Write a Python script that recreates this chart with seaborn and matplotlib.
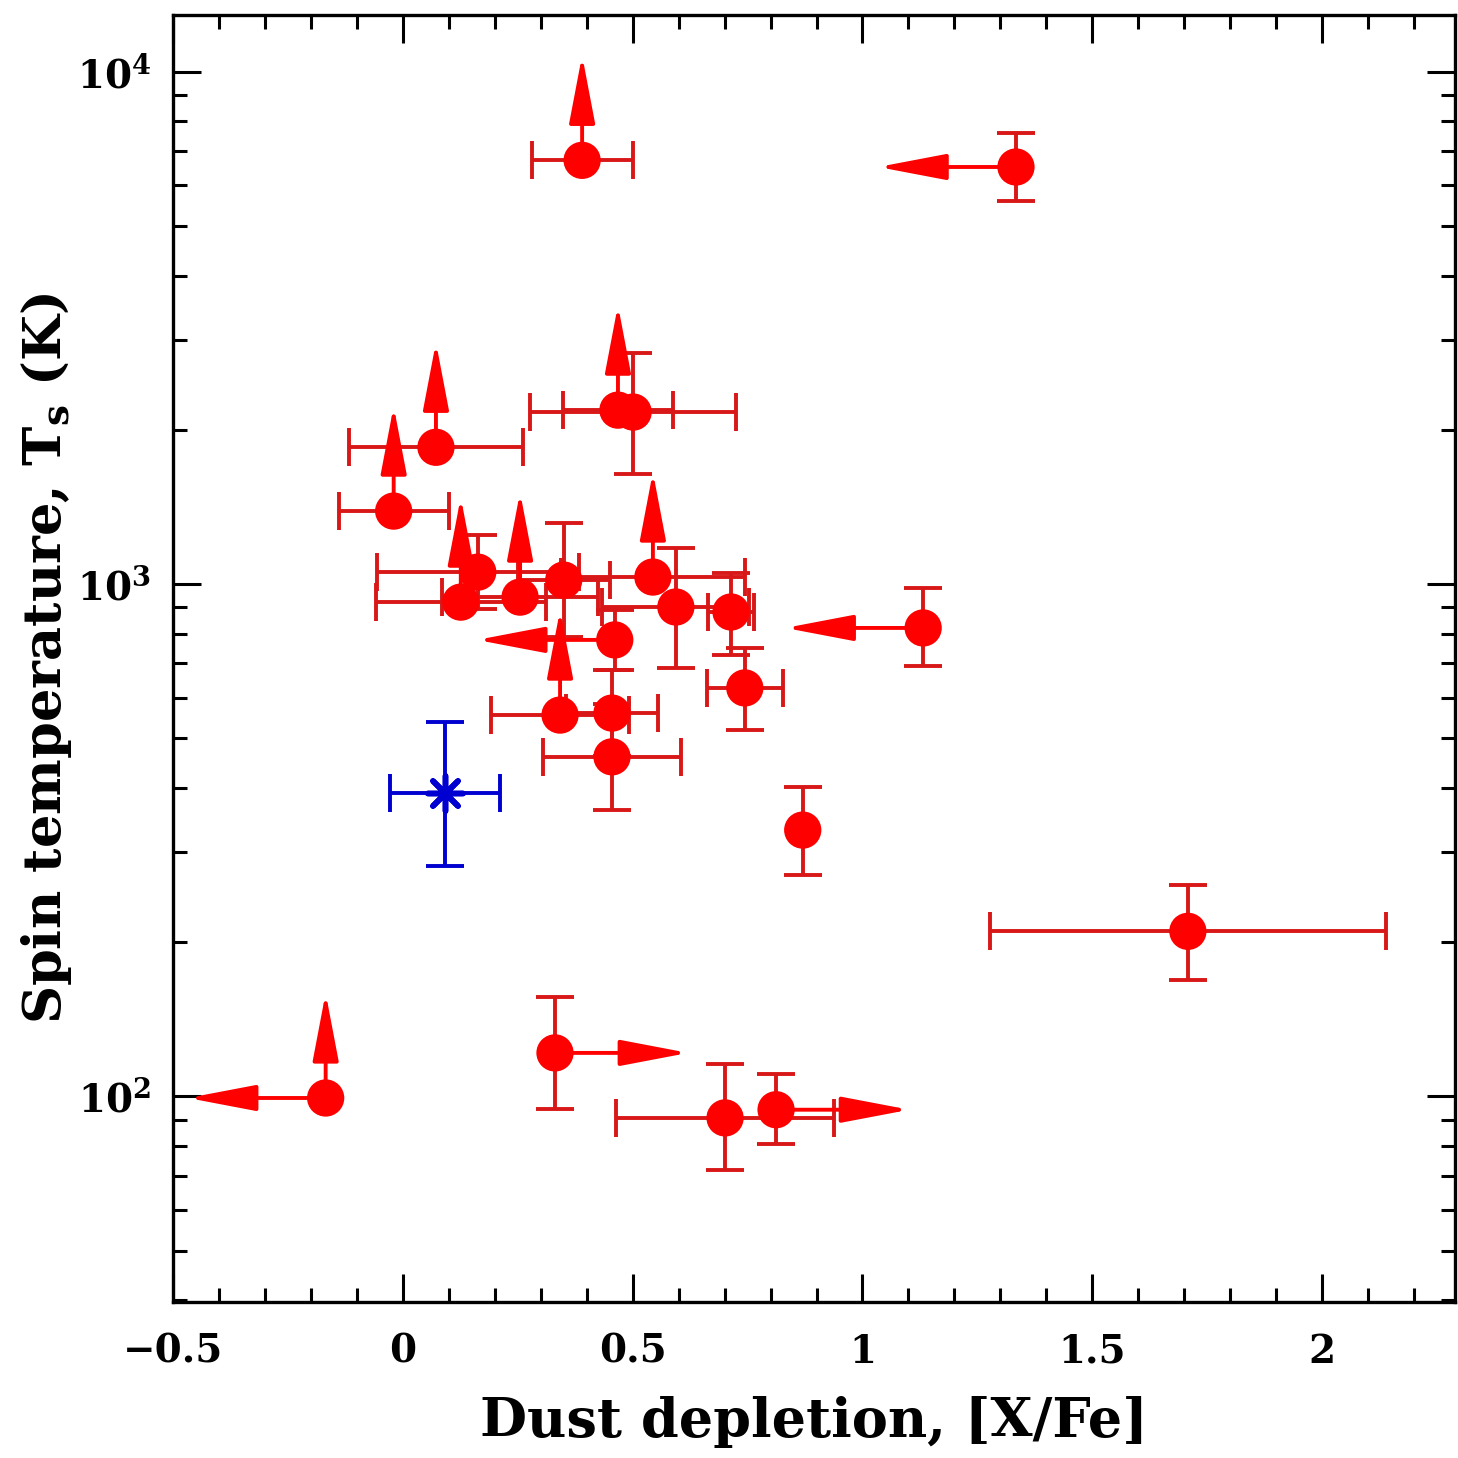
import numpy as np
import pandas as pd
import matplotlib
matplotlib.use("Agg")
import matplotlib.pyplot as plt
import seaborn as sns
from matplotlib.patches import FancyArrowPatch, ArrowStyle
from matplotlib.ticker import MultipleLocator, LogLocator, NullFormatter

nan = np.nan

# ---------------- data ----------------
depletion = [0.390, 1.334, 0.072, -0.020, 0.468, 0.501, 0.544, 0.163, 0.126, 0.255,
             0.350, 0.594, 0.714, 0.461, 0.744, 1.132, 0.342, 0.455, 0.455, 0.870,
             1.708, -0.168, 0.331, 0.701, 0.812]
spin_temp = [6714, 6516, 1849, 1388, 2185, 2166, 1032, 1055, 922, 943,
             1018, 902, 882, 778, 627, 821, 555, 560, 460, 331,
             210, 99.3, 121.6, 90.8, 94.2]
depletion_err = [0.11, nan, 0.19, 0.12, 0.12, 0.224, 0.20, 0.22, 0.185, 0.17,
                 0.10, 0.16, 0.05, nan, 0.083, nan, 0.15, 0.10, 0.15, nan,
                 0.43, nan, nan, 0.237, nan]
temp_low = [nan, 5590, nan, nan, nan, 1639, nan, 893, nan, nan,
            788, 686, 727, 680, 519, 692, nan, 462, 362, 270,
            169, nan, 94.6, 71.9, 80.7]
temp_high = [nan, 7590, nan, nan, nan, 2823, nan, 1246, nan, nan,
             1315, 1176, 1051, 890, 750, 982, nan, 680, 583, 402,
             259, nan, 156, 115.6, 110.7]
# limits: T_s lower limit (arrow up), depletion upper limit (arrow left),
# depletion lower limit (arrow right)
temp_lower_limit = [1, 0, 1, 1, 1, 0, 1, 0, 1, 1, 0, 0, 0, 0, 0, 0, 1, 0, 0, 0, 0, 1, 0, 0, 0]
depl_upper_limit = [0, 1, 0, 0, 0, 0, 0, 0, 0, 0, 0, 0, 0, 1, 0, 1, 0, 0, 0, 0, 0, 1, 0, 0, 0]
depl_lower_limit = [0, 0, 0, 0, 0, 0, 0, 0, 0, 0, 0, 0, 0, 0, 0, 0, 0, 0, 0, 0, 0, 0, 1, 0, 1]

# Galactic reference point (blue)
gal_depletion = [0.091]
gal_temp = [391]
gal_depletion_err = [0.12]
gal_temp_low = [282]
gal_temp_high = [538]

x_ticks = [-0.5, 0, 0.5, 1, 1.5, 2]
x_tick_labels = ["\u22120.5", "0", "0.5", "1", "1.5", "2"]
y_ticks = [100, 1000, 10000]
y_tick_labels = [r"$\mathbf{10^{2}}$", r"$\mathbf{10^{3}}$", r"$\mathbf{10^{4}}$"]
x_label = "Dust depletion, [X/Fe]"
y_label = r"Spin temperature, T$_\mathbf{s}$ (K)"

df = pd.DataFrame({"dep": depletion, "ts": spin_temp, "dep_err": depletion_err,
                   "ts_lo": temp_low, "ts_hi": temp_high,
                   "up": temp_lower_limit, "left": depl_upper_limit,
                   "right": depl_lower_limit})
gal = pd.DataFrame({"dep": gal_depletion, "ts": gal_temp, "dep_err": gal_depletion_err,
                    "ts_lo": gal_temp_low, "ts_hi": gal_temp_high})

# ---------------- style ----------------
sns.set_theme(style="ticks")
plt.rcParams["font.family"] = ["DejaVu Serif", "DejaVu Sans"]
plt.rcParams["font.weight"] = "bold"
plt.rcParams["mathtext.fontset"] = "dejavuserif"
plt.rcParams["mathtext.default"] = "bf"
plt.rcParams["text.color"] = "black"
plt.rcParams["axes.labelcolor"] = "black"

RED = "#ff0000"
RED_ERR = "#d81818"
BLUE = "#0000d0"

fig = plt.figure(figsize=(14.58, 14.58), dpi=100)
ax = fig.add_axes([0.1187, 0.107, 0.8795, 0.8827])
ax.set_yscale("log")
ax.set_xlim(-0.5, 2.29)
ax.set_ylim(39.7, 12900)

LW = 2.8
CAP = 28

def draw_errors(data, color):
    for _, r in data.iterrows():
        xe = None if np.isnan(r.dep_err) else r.dep_err
        if np.isnan(r.ts_lo):
            ye = None
        else:
            ye = [[r.ts - r.ts_lo], [r.ts_hi - r.ts]]
        if xe is None and ye is None:
            continue
        ax.errorbar(r.dep, r.ts, xerr=xe, yerr=ye, fmt="none", ecolor=color,
                    elinewidth=LW, capsize=CAP / 2, capthick=LW, zorder=2)

draw_errors(df, RED_ERR)
draw_errors(gal, BLUE)

# limit arrows
astyle = ArrowStyle("-|>", head_length=42, head_width=8)
UP_DEX = 0.205
DX = 0.29
for _, r in df.iterrows():
    ends = []
    if r.up:
        ends.append((r.dep, r.ts * 10 ** UP_DEX))
    if r.left:
        ends.append((r.dep - DX - 0.01, r.ts))
    if r.right:
        ends.append((r.dep + DX, r.ts))
    for e in ends:
        arr = FancyArrowPatch((r.dep, r.ts), e, arrowstyle=astyle, mutation_scale=1,
                              color=RED, lw=LW, shrinkA=0, shrinkB=0, zorder=3)
        ax.add_patch(arr)

sns.scatterplot(data=df, x="dep", y="ts", ax=ax, color=RED, s=720,
                edgecolor="none", linewidth=0, zorder=4, legend=False)
sns.scatterplot(data=gal, x="dep", y="ts", ax=ax, color=BLUE, s=650,
                marker=(8, 2, 0), linewidth=4, edgecolor=BLUE, zorder=4, legend=False)

# ---------------- axes ----------------
ax.set_xticks(x_ticks)
ax.set_xticklabels(x_tick_labels)
ax.xaxis.set_minor_locator(MultipleLocator(0.1))
ax.set_yticks(y_ticks)
ax.set_yticklabels(y_tick_labels)
ax.yaxis.set_minor_locator(LogLocator(base=10, subs=np.arange(2, 10)))
ax.yaxis.set_minor_formatter(NullFormatter())

ax.tick_params(which="both", direction="in", top=True, right=True, width=2.2,
               colors="black", labelsize=28)
ax.tick_params(axis="x", pad=22)
ax.tick_params(axis="y", pad=16)
ax.tick_params(which="major", length=20)
ax.tick_params(which="minor", length=10)
for s in ax.spines.values():
    s.set_linewidth(2.4)
    s.set_color("black")

ax.set_xlabel(x_label, fontsize=39, fontweight="bold", labelpad=18, color="black")
ax.set_ylabel(y_label, fontsize=38, fontweight="bold", labelpad=2, color="black")

fig.savefig("out.png", dpi=100, facecolor="white")
